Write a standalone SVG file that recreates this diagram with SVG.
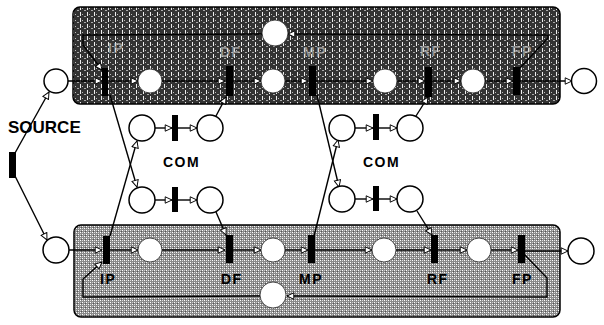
<svg xmlns="http://www.w3.org/2000/svg" width="604" height="325" viewBox="0 0 604 325">
<style>
.ln{fill:none;stroke:#000;stroke-width:1.4}
.arr{marker-end:url(#ah)}
.pl{fill:#fff;stroke:#000;stroke-width:1.5}
.pin{fill:#fff;stroke:#222;stroke-width:0.8}
.tr{fill:#000}
.lbl{font-family:"Liberation Sans",Arial,sans-serif;font-weight:bold;font-size:14px;letter-spacing:1.5px}
.lw{fill:#d0d0d0;opacity:0.6}
.lb{fill:#000}
</style>
<defs>
<marker id="ah" viewBox="0 0 10 10" refX="9.5" refY="5" markerWidth="8" markerHeight="8" markerUnits="userSpaceOnUse" orient="auto">
<path d="M1,1 L9.5,5 L1,9 Z" fill="#fff" stroke="#000" stroke-width="1.2"/>
</marker>
<pattern id="dark" width="7" height="6" patternUnits="userSpaceOnUse">
<rect width="7" height="6" fill="#333"/>
<rect x="3" y="0" width="1" height="4" fill="#eee"/>
<rect x="0" y="4" width="2" height="1" fill="#aaa"/>
<rect x="5" y="2" width="1" height="1" fill="#bbb"/>
</pattern>
<pattern id="mid" width="4" height="4" patternUnits="userSpaceOnUse">
<rect width="4" height="4" fill="#8a8a8a"/>
<rect x="0" y="0" width="1" height="1" fill="#fff"/>
<rect x="2" y="2" width="1" height="1" fill="#fff"/>
<rect x="2" y="0" width="1" height="1" fill="#ddd"/>
<rect x="0" y="2" width="1" height="1" fill="#c8c8c8"/>
<rect x="1" y="3" width="1" height="1" fill="#555"/>
</pattern>
</defs>

<g id="box-top"><rect x="73" y="7" width="487" height="97" rx="7" fill="url(#dark)" stroke="#000" stroke-width="1.5"/></g>
<g id="box-bottom"><rect x="74" y="225" width="486" height="92" rx="7" fill="url(#mid)" stroke="#000" stroke-width="1.5"/></g>

<g id="connectors">
<path class="ln arr" d="M15,153 L49,92"/>
<path class="ln arr" d="M15,176 L47,240"/>
<path class="ln arr" d="M68,81 L102,81"/>
<path class="ln arr" d="M108,81 L138,81"/>
<path class="ln arr" d="M162,81 L225,81"/>
<path class="ln arr" d="M233,81 L261,81"/>
<path class="ln arr" d="M285,81 L308,81"/>
<path class="ln arr" d="M316,81 L373,81"/>
<path class="ln arr" d="M397,81 L425,81"/>
<path class="ln arr" d="M432,81 L461,81"/>
<path class="ln arr" d="M485,81 L513,81"/>
<path class="ln arr" d="M520,81 L572,81"/>
<path class="ln arr" d="M520,68 L548,38 L548,35 L288,34"/>
<path class="ln arr" d="M262,34 L83,35 L83,45 L102,70"/>
<path class="ln arr" d="M69,250 L102,250"/>
<path class="ln arr" d="M110,250 L138,250"/>
<path class="ln arr" d="M162,250 L225,250"/>
<path class="ln arr" d="M233,250 L261,250"/>
<path class="ln arr" d="M285,250 L308,250"/>
<path class="ln arr" d="M315,250 L372,250"/>
<path class="ln arr" d="M396,250 L431,250"/>
<path class="ln arr" d="M438,250 L467,250"/>
<path class="ln arr" d="M491,250 L518,250"/>
<path class="ln arr" d="M525,251 L568,251"/>
<path class="ln arr" d="M523,253 L547,278 L547,297 L287,296"/>
<path class="ln arr" d="M260,296 L83,297 L83,279 L102,262"/>
<path class="ln arr" d="M110,95 L137,187"/>
<path class="ln arr" d="M110,236 L137,141"/>
<path class="ln arr" d="M155,128 L172,128"/>
<path class="ln arr" d="M178,128 L197,128"/>
<path class="ln arr" d="M155,200 L172,200"/>
<path class="ln arr" d="M178,200 L197,200"/>
<path class="ln arr" d="M216,116 L226,97"/>
<path class="ln arr" d="M216,212 L226,235"/>
<path class="ln arr" d="M317,95 L339,187"/>
<path class="ln arr" d="M314,236 L338,140"/>
<path class="ln arr" d="M355,128 L373,128"/>
<path class="ln arr" d="M379,128 L397,128"/>
<path class="ln arr" d="M355,199 L373,199"/>
<path class="ln arr" d="M379,199 L397,199"/>
<path class="ln arr" d="M416,116 L428,97"/>
<path class="ln arr" d="M417,211 L432,235"/>
</g>

<g id="source"><rect class="tr" x="9" y="152" width="7" height="26"/><text class="lbl lb" x="8" y="133" style="font-size:17px;letter-spacing:0">SOURCE</text></g>

<g id="top-in"><circle class="pl" cx="56" cy="81" r="12"/></g>
<g id="top-IP"><rect class="tr" x="102" y="68" width="6" height="28"/><text class="lbl lw" x="108" y="53">IP</text></g>
<g id="top-p1"><circle class="pin" cx="150" cy="81" r="12"/></g>
<g id="top-DF"><rect class="tr" x="226" y="66" width="7" height="30"/><text class="lbl lw" x="220" y="57">DF</text></g>
<g id="top-p2"><circle class="pin" cx="273" cy="81" r="12"/></g>
<g id="top-res"><circle class="pin" cx="275" cy="33" r="13"/></g>
<g id="top-MP"><rect class="tr" x="309" y="66" width="7" height="30"/><text class="lbl lw" x="303" y="57">MP</text></g>
<g id="top-p3"><circle class="pin" cx="385" cy="81" r="12"/></g>
<g id="top-RF"><rect class="tr" x="425" y="67" width="7" height="30"/><text class="lbl lw" x="420" y="56">RF</text></g>
<g id="top-p4"><circle class="pin" cx="473" cy="81" r="12"/></g>
<g id="top-FP"><rect class="tr" x="513" y="67" width="7" height="28"/><text class="lbl lw" x="512" y="56">FP</text></g>
<g id="top-out"><circle class="pl" cx="584" cy="81" r="12.5"/></g>

<g id="bot-in"><circle class="pl" cx="56" cy="250" r="13"/></g>
<g id="bot-IP"><rect class="tr" x="103" y="236" width="7" height="28"/><text class="lbl lb" x="100" y="284">IP</text></g>
<g id="bot-p1"><circle class="pin" cx="150" cy="250" r="12"/></g>
<g id="bot-DF"><rect class="tr" x="226" y="235" width="7" height="28"/><text class="lbl lb" x="221" y="284">DF</text></g>
<g id="bot-p2"><circle class="pin" cx="273" cy="250" r="12"/></g>
<g id="bot-res"><circle class="pin" cx="273" cy="295" r="13"/></g>
<g id="bot-MP"><rect class="tr" x="308" y="235" width="7" height="28"/><text class="lbl lb" x="299" y="284">MP</text></g>
<g id="bot-p3"><circle class="pin" cx="384" cy="250" r="12"/></g>
<g id="bot-RF"><rect class="tr" x="431" y="235" width="7" height="28"/><text class="lbl lb" x="427" y="284">RF</text></g>
<g id="bot-p4"><circle class="pin" cx="479" cy="250" r="12"/></g>
<g id="bot-FP"><rect class="tr" x="518" y="235" width="7" height="28"/><text class="lbl lb" x="512" y="284">FP</text></g>
<g id="bot-out"><circle class="pl" cx="581" cy="251" r="13"/></g>

<g id="com-left">
<circle class="pl" cx="142" cy="128" r="13"/><rect class="tr" x="172" y="115" width="6" height="26"/><circle class="pl" cx="210" cy="128" r="13"/>
<circle class="pl" cx="142" cy="200" r="13"/><rect class="tr" x="172" y="187" width="6" height="25"/><circle class="pl" cx="210" cy="200" r="13"/>
<text class="lbl lb" x="163" y="167">COM</text>
</g>
<g id="com-right">
<circle class="pl" cx="342" cy="128" r="13"/><rect class="tr" x="373" y="114" width="6" height="26"/><circle class="pl" cx="410" cy="128" r="13"/>
<circle class="pl" cx="342" cy="199" r="13"/><rect class="tr" x="373" y="186" width="6" height="25"/><circle class="pl" cx="410" cy="199" r="13"/>
<text class="lbl lb" x="363" y="167">COM</text>
</g>
</svg>
